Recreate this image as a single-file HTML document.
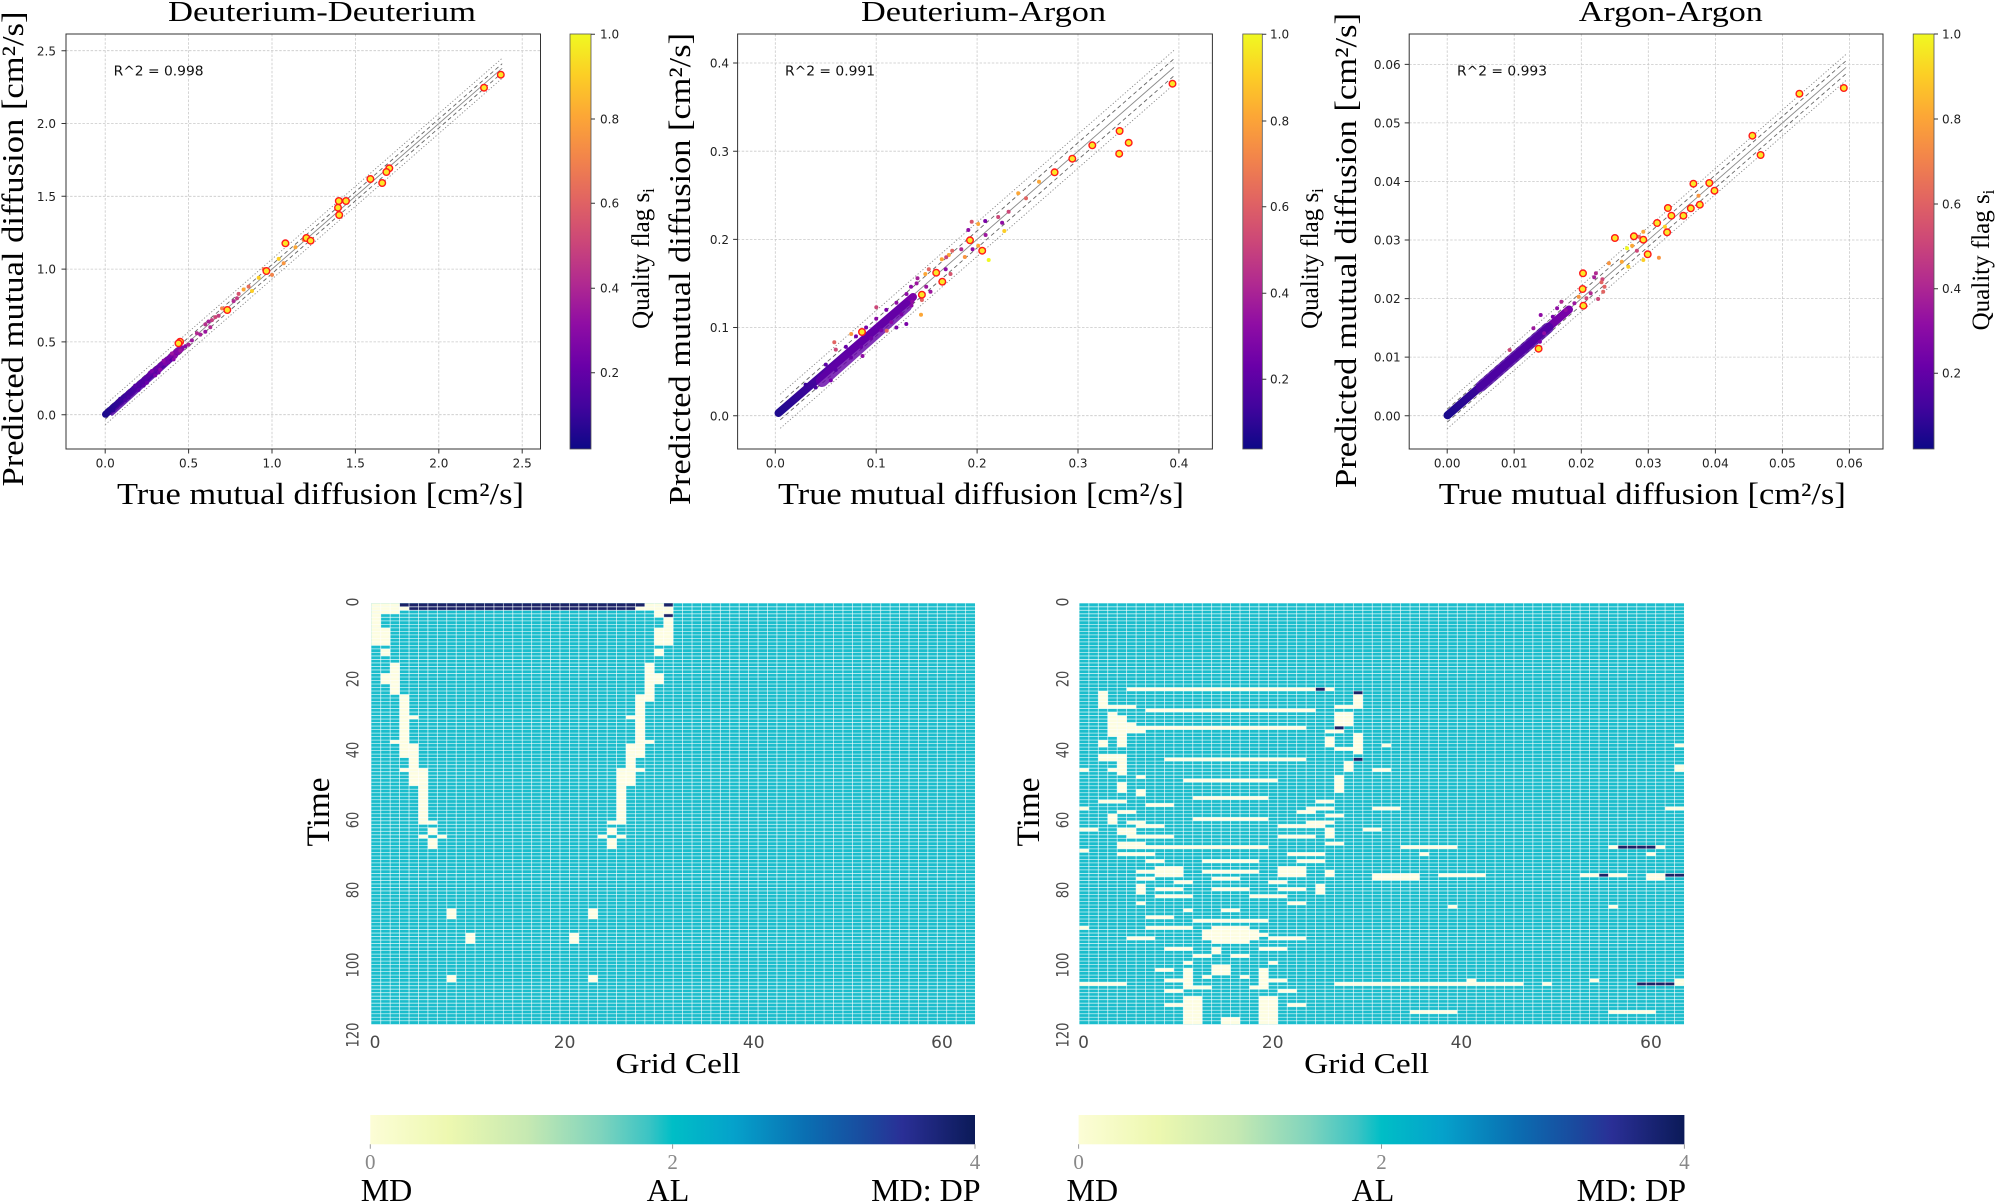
<!DOCTYPE html>
<html><head><meta charset="utf-8"><style>html,body{margin:0;padding:0;background:#fff}svg{display:block}</style></head>
<body>
<svg xmlns="http://www.w3.org/2000/svg" width="1996" height="1203" viewBox="0 0 1996 1203">
<defs>
<linearGradient id="pl" x1="0" y1="1" x2="0" y2="0">
<stop offset="0" stop-color="#0d0887"/><stop offset=".1" stop-color="#41049d"/><stop offset=".2" stop-color="#6a00a8"/><stop offset=".3" stop-color="#8f0da4"/><stop offset=".4" stop-color="#b12a90"/><stop offset=".5" stop-color="#cc4778"/><stop offset=".6" stop-color="#e16462"/><stop offset=".7" stop-color="#f2844b"/><stop offset=".8" stop-color="#fca636"/><stop offset=".9" stop-color="#fcce25"/><stop offset="1" stop-color="#f0f921"/>
</linearGradient>
<linearGradient id="yg" x1="0" y1="0" x2="1" y2="0">
<stop offset="0" stop-color="#fcfdd6"/><stop offset=".13" stop-color="#edf8b0"/><stop offset=".26" stop-color="#c6e9b2"/><stop offset=".38" stop-color="#80d4bd"/><stop offset=".46" stop-color="#3cc4c4"/><stop offset=".5" stop-color="#00bec6"/><stop offset=".6" stop-color="#05a2cb"/><stop offset=".72" stop-color="#0a6fb2"/><stop offset=".82" stop-color="#1a4a9e"/><stop offset=".88" stop-color="#2a2f96"/><stop offset="1" stop-color="#0b1a58"/>
</linearGradient>
<linearGradient id="b1" gradientUnits="userSpaceOnUse" x1="105" y1="415" x2="181" y2="348"><stop offset="0" stop-color="#1b0a8c"/><stop offset=".4" stop-color="#4a03a0"/><stop offset=".8" stop-color="#7001a8"/><stop offset="1" stop-color="#8a0aa5"/></linearGradient>
<linearGradient id="b2" gradientUnits="userSpaceOnUse" x1="778" y1="413" x2="913" y2="297"><stop offset="0" stop-color="#1f0a8e"/><stop offset=".4" stop-color="#5402a3"/><stop offset="1" stop-color="#7a02a8"/></linearGradient>
<linearGradient id="b3" gradientUnits="userSpaceOnUse" x1="1447" y1="416" x2="1569" y2="309"><stop offset="0" stop-color="#1a0a8c"/><stop offset=".4" stop-color="#4a03a0"/><stop offset="1" stop-color="#7a02a8"/></linearGradient>
<path id="hl" vector-effect="non-scaling-stroke" d="M0 1H64M0 2H64M0 3H64M0 4H64M0 5H64M0 6H64M0 7H64M0 8H64M0 9H64M0 10H64M0 11H64M0 12H64M0 13H64M0 14H64M0 15H64M0 16H64M0 17H64M0 18H64M0 19H64M0 20H64M0 21H64M0 22H64M0 23H64M0 24H64M0 25H64M0 26H64M0 27H64M0 28H64M0 29H64M0 30H64M0 31H64M0 32H64M0 33H64M0 34H64M0 35H64M0 36H64M0 37H64M0 38H64M0 39H64M0 40H64M0 41H64M0 42H64M0 43H64M0 44H64M0 45H64M0 46H64M0 47H64M0 48H64M0 49H64M0 50H64M0 51H64M0 52H64M0 53H64M0 54H64M0 55H64M0 56H64M0 57H64M0 58H64M0 59H64M0 60H64M0 61H64M0 62H64M0 63H64M0 64H64M0 65H64M0 66H64M0 67H64M0 68H64M0 69H64M0 70H64M0 71H64M0 72H64M0 73H64M0 74H64M0 75H64M0 76H64M0 77H64M0 78H64M0 79H64M0 80H64M0 81H64M0 82H64M0 83H64M0 84H64M0 85H64M0 86H64M0 87H64M0 88H64M0 89H64M0 90H64M0 91H64M0 92H64M0 93H64M0 94H64M0 95H64M0 96H64M0 97H64M0 98H64M0 99H64M0 100H64M0 101H64M0 102H64M0 103H64M0 104H64M0 105H64M0 106H64M0 107H64M0 108H64M0 109H64M0 110H64M0 111H64M0 112H64M0 113H64M0 114H64M0 115H64M0 116H64M0 117H64M0 118H64M0 119H64"/>
<path id="vl" vector-effect="non-scaling-stroke" d="M1 0V120M2 0V120M3 0V120M4 0V120M5 0V120M6 0V120M7 0V120M8 0V120M9 0V120M10 0V120M11 0V120M12 0V120M13 0V120M14 0V120M15 0V120M16 0V120M17 0V120M18 0V120M19 0V120M20 0V120M21 0V120M22 0V120M23 0V120M24 0V120M25 0V120M26 0V120M27 0V120M28 0V120M29 0V120M30 0V120M31 0V120M32 0V120M33 0V120M34 0V120M35 0V120M36 0V120M37 0V120M38 0V120M39 0V120M40 0V120M41 0V120M42 0V120M43 0V120M44 0V120M45 0V120M46 0V120M47 0V120M48 0V120M49 0V120M50 0V120M51 0V120M52 0V120M53 0V120M54 0V120M55 0V120M56 0V120M57 0V120M58 0V120M59 0V120M60 0V120M61 0V120M62 0V120M63 0V120"/>
</defs>
<rect width="1996" height="1203" fill="#fff"/>

<!-- ================= PLOT 1 ================= -->
<g stroke="#c9c9c9" stroke-width=".8" stroke-dasharray="2.5 1.6" fill="none">
<path d="M105.2 34V449M188.6 34V449M272 34V449M355.4 34V449M438.8 34V449M522.2 34V449"/>
<path d="M66 414.7H540.5M66 341.9H540.5M66 269.1H540.5M66 196.3H540.5M66 123.5H540.5M66 50.7H540.5"/>
</g>
<g fill="none" stroke-width=".9">
<path d="M105.2 414.7L502.2 68.2" stroke="#8a8a8a"/>
<path d="M105.2 410.2L502.2 63.7M105.2 419.2L502.2 72.7" stroke="#666" stroke-dasharray="4 3"/>
<path d="M105.2 404.7L502.2 58.2M105.2 424.7L502.2 78.2" stroke="#888" stroke-dasharray="1.2 2"/>
</g>
<path d="M105.5 414.3L181 348.5" stroke="url(#b1)" stroke-width="7" stroke-linecap="round" fill="none"/>
<path d="M112 414L176 356" stroke="#4f02a2" stroke-width="3.5" stroke-linecap="round" fill="none" opacity=".85"/>
<g>
<circle cx="113.5" cy="410.3" r="2" fill="#2c0594"/><circle cx="120.2" cy="398.7" r="2" fill="#3b049a"/><circle cx="128.6" cy="397.2" r="2" fill="#4b03a1"/><circle cx="135.2" cy="385.6" r="2" fill="#5601a4"/><circle cx="143.6" cy="385.6" r="2" fill="#5d01a6"/><circle cx="150.2" cy="372.5" r="2" fill="#6a00a8"/><circle cx="158.6" cy="372.5" r="2" fill="#7201a8"/><circle cx="165.2" cy="363.7" r="2" fill="#7e03a8"/><circle cx="173.6" cy="359.4" r="2" fill="#8606a6"/>
<circle cx="125.2" cy="400.1" r="2" fill="#4a03a0"/><circle cx="138.6" cy="389.9" r="2" fill="#5c01a6"/><circle cx="146.9" cy="382.7" r="2" fill="#6a00a8"/><circle cx="151.9" cy="371" r="2" fill="#7a02a8"/><circle cx="155.2" cy="375.4" r="2" fill="#7a02a8"/><circle cx="160.2" cy="369.6" r="2" fill="#8b0aa5"/><circle cx="163.6" cy="360.8" r="2" fill="#8b0aa5"/><circle cx="168.6" cy="362.3" r="2" fill="#7a02a8"/><circle cx="171.9" cy="353.5" r="2" fill="#9c179e"/><circle cx="175.3" cy="356.5" r="2" fill="#8b0aa5"/><circle cx="180.3" cy="350.6" r="2" fill="#9c179e"/><circle cx="185.3" cy="346.3" r="2" fill="#8b0aa5"/><circle cx="188.6" cy="344.8" r="2" fill="#a62098"/><circle cx="191.9" cy="340.4" r="2" fill="#9c179e"/><circle cx="196.9" cy="333.2" r="2" fill="#b12a90"/><circle cx="200.3" cy="334.6" r="2" fill="#a62098"/><circle cx="205.3" cy="331.7" r="2" fill="#9c179e"/><circle cx="205.3" cy="324.4" r="2" fill="#b52f8c"/><circle cx="210.3" cy="327.3" r="2" fill="#b12a90"/><circle cx="211.9" cy="320.1" r="2" fill="#c33d80"/><circle cx="215.3" cy="317.1" r="2" fill="#cc4778"/><circle cx="208.6" cy="321.5" r="2" fill="#a62098"/><circle cx="218.6" cy="315.7" r="2" fill="#c33d80"/><circle cx="222" cy="308.4" r="2" fill="#f2844b"/><circle cx="233.6" cy="301.1" r="2" fill="#b12a90"/><circle cx="237" cy="298.2" r="2" fill="#c33d80"/><circle cx="238.6" cy="293.9" r="2" fill="#d5546e"/><circle cx="243.6" cy="289.5" r="2" fill="#fca636"/><circle cx="248.6" cy="286.6" r="2" fill="#e66c5c"/><circle cx="252" cy="291" r="2" fill="#fcce25"/><circle cx="258.7" cy="277.8" r="2" fill="#fcce25"/><circle cx="263.7" cy="269.1" r="2" fill="#f2844b"/><circle cx="267" cy="272" r="2" fill="#fca636"/><circle cx="272" cy="274.9" r="2" fill="#f2844b"/><circle cx="278.7" cy="258.9" r="2" fill="#fcce25"/><circle cx="283.7" cy="263.3" r="2" fill="#f89540"/><circle cx="295.4" cy="247.3" r="2" fill="#fca636"/><circle cx="303.7" cy="240" r="2" fill="#f2844b"/><circle cx="308.7" cy="238.5" r="2" fill="#fca636"/>
</g>
<g fill="#fce725" stroke="#ff1a1a" stroke-width="1.4">
<circle cx="500.8" cy="74.7" r="3.3"/><circle cx="484" cy="87.7" r="3.3"/><circle cx="389.3" cy="168.3" r="3.3"/><circle cx="386.4" cy="172" r="3.3"/><circle cx="370.4" cy="179" r="3.3"/><circle cx="382.2" cy="183" r="3.3"/><circle cx="338.8" cy="201" r="3.3"/><circle cx="346" cy="201" r="3.3"/><circle cx="338" cy="207.7" r="3.3"/><circle cx="339.2" cy="215" r="3.3"/><circle cx="285.4" cy="243.3" r="3.3"/><circle cx="306.4" cy="238" r="3.3"/><circle cx="310.6" cy="240.7" r="3.3"/><circle cx="266.4" cy="271" r="3.3"/><circle cx="227.3" cy="310" r="3.3"/><circle cx="180.1" cy="341.7" r="3.3"/><circle cx="178.5" cy="343.3" r="3.3"/>
</g>
<rect x="66" y="34" width="474.5" height="415" fill="none" stroke="#333" stroke-width="1"/>
<g stroke="#333" stroke-width="1">
<path d="M105.2 449v4.5M188.6 449v4.5M272 449v4.5M355.4 449v4.5M438.8 449v4.5M522.2 449v4.5"/>
<path d="M61.5 414.7h4.5M61.5 341.9h4.5M61.5 269.1h4.5M61.5 196.3h4.5M61.5 123.5h4.5M61.5 50.7h4.5"/>
</g>
<g font-family="DejaVu Sans, sans-serif" font-size="12" fill="#222">
<g text-anchor="middle"><text x="105.2" y="467.5">0.0</text><text x="188.6" y="467.5">0.5</text><text x="272" y="467.5">1.0</text><text x="355.4" y="467.5">1.5</text><text x="438.8" y="467.5">2.0</text><text x="522.2" y="467.5">2.5</text></g>
<g text-anchor="end"><text x="56" y="419.3">0.0</text><text x="56" y="346.5">0.5</text><text x="56" y="273.7">1.0</text><text x="56" y="200.9">1.5</text><text x="56" y="128.1">2.0</text><text x="56" y="55.3">2.5</text></g>
<text x="113.6" y="75.5" font-size="13" textLength="90" lengthAdjust="spacingAndGlyphs" fill="#111">R^2 = 0.998</text>
</g>
<rect x="570" y="34" width="21" height="415" fill="url(#pl)" stroke="#555" stroke-width=".8"/>
<g stroke="#333" stroke-width="1"><path d="M591 34.3h4M591 119h4M591 203.3h4M591 288.3h4M591 372.7h4"/></g>
<g font-family="DejaVu Sans, sans-serif" font-size="12" fill="#222"><text x="600" y="38.7">1.0</text><text x="600" y="123.4">0.8</text><text x="600" y="207.7">0.6</text><text x="600" y="292.7">0.4</text><text x="600" y="377.1">0.2</text></g>
<g font-family="Liberation Serif, serif" fill="#000">
<text x="322" y="21" font-size="29" text-anchor="middle" textLength="308" lengthAdjust="spacingAndGlyphs">Deuterium-Deuterium</text>
<text x="320.5" y="504" font-size="31" text-anchor="middle" textLength="407" lengthAdjust="spacingAndGlyphs">True mutual diffusion [cm²/s]</text>
<text transform="translate(23 249) rotate(-90)" font-size="31" text-anchor="middle" textLength="475" lengthAdjust="spacingAndGlyphs">Predicted mutual diffusion [cm²/s]</text>
<text transform="translate(649 258.5) rotate(-90)" font-size="25" text-anchor="middle">Quality flag s<tspan font-size="17" dy="5">i</tspan></text>
</g>

<!-- ================= PLOT 2 ================= -->
<g stroke="#c9c9c9" stroke-width=".8" stroke-dasharray="2.5 1.6" fill="none">
<path d="M775.3 34V449M876.2 34V449M977.1 34V449M1078 34V449M1178.9 34V449"/>
<path d="M737.6 415.7H1212.4M737.6 327.5H1212.4M737.6 239.4H1212.4M737.6 151.2H1212.4M737.6 63H1212.4"/>
</g>
<g fill="none" stroke-width=".9">
<path d="M780.3 411.3L1173.9 67.4" stroke="#8a8a8a"/>
<path d="M780.3 402.8L1173.9 58.9M780.3 419.8L1173.9 75.9" stroke="#666" stroke-dasharray="4 3"/>
<path d="M780.3 394.3L1173.9 50.4M780.3 428.3L1173.9 84.4" stroke="#888" stroke-dasharray="1.2 2"/>
</g>
<path d="M778.5 413L913 297" stroke="url(#b2)" stroke-width="8" stroke-linecap="round" fill="none"/>
<path d="M822 381L906 306" stroke="#6200a6" stroke-width="12" stroke-linecap="round" fill="none" opacity=".8"/>
<g>
<circle cx="805.6" cy="384.8" r="2" fill="#3b049a"/><circle cx="815.7" cy="387.5" r="2" fill="#4a03a0"/><circle cx="825.8" cy="364.6" r="2" fill="#5c01a6"/><circle cx="835.8" cy="369.9" r="2" fill="#5c01a6"/><circle cx="845.9" cy="346.9" r="2" fill="#6a00a8"/><circle cx="851" cy="357.5" r="2" fill="#6a00a8"/><circle cx="856" cy="336.4" r="2" fill="#7201a8"/><circle cx="861.1" cy="346.9" r="2" fill="#6a00a8"/><circle cx="866.1" cy="327.5" r="2" fill="#7a02a8"/><circle cx="871.2" cy="338.1" r="2" fill="#7201a8"/><circle cx="876.2" cy="318.7" r="2" fill="#8b0aa5"/><circle cx="881.2" cy="330.2" r="2" fill="#7a02a8"/><circle cx="886.3" cy="309.9" r="2" fill="#7a02a8"/><circle cx="891.3" cy="322.2" r="2" fill="#8b0aa5"/><circle cx="896.4" cy="302.8" r="2" fill="#8f0da4"/><circle cx="901.4" cy="314.3" r="2" fill="#7a02a8"/><circle cx="906.5" cy="294" r="2" fill="#8f0da4"/><circle cx="911.5" cy="305.5" r="2" fill="#8b0aa5"/><circle cx="916.6" cy="283.4" r="2" fill="#9c179e"/><circle cx="921.6" cy="298.4" r="2" fill="#8f0da4"/><circle cx="835.8" cy="349.6" r="2" fill="#cc4778"/><circle cx="830.8" cy="380.4" r="2" fill="#7a02a8"/><circle cx="896.4" cy="327.5" r="2" fill="#7a02a8"/>
<circle cx="1039" cy="181.7" r="2" fill="#fca636"/><circle cx="1018.2" cy="193.3" r="2" fill="#fca636"/><circle cx="1026" cy="198.3" r="2" fill="#e16462"/><circle cx="1008.6" cy="211.7" r="2" fill="#cc4778"/><circle cx="998.2" cy="217" r="2" fill="#cc4778"/><circle cx="1002.1" cy="222.7" r="2" fill="#8f0da4"/><circle cx="985.2" cy="221" r="2" fill="#7a02a8"/><circle cx="978.2" cy="224" r="2" fill="#fca636"/><circle cx="985.6" cy="235" r="2" fill="#9c179e"/><circle cx="1004.3" cy="231" r="2" fill="#fcce25"/><circle cx="988.7" cy="260" r="2" fill="#f0f921"/><circle cx="964.8" cy="257" r="2" fill="#f89540"/><circle cx="972.6" cy="249.3" r="2" fill="#8f0da4"/><circle cx="961.3" cy="249.3" r="2" fill="#b12a90"/><circle cx="948.8" cy="255" r="2" fill="#fca636"/><circle cx="941.8" cy="259.3" r="2" fill="#fca636"/><circle cx="952.2" cy="250.7" r="2" fill="#e16462"/><circle cx="946.2" cy="257.3" r="2" fill="#cc4778"/><circle cx="950.5" cy="274" r="2" fill="#d5546e"/><circle cx="945.7" cy="269.3" r="2" fill="#8f0da4"/><circle cx="928.8" cy="269.3" r="2" fill="#e16462"/><circle cx="925.3" cy="274" r="2" fill="#fca636"/><circle cx="921" cy="314.7" r="2" fill="#fca636"/><circle cx="906.3" cy="324" r="2" fill="#7a02a8"/><circle cx="876.3" cy="307.3" r="2" fill="#cc4778"/><circle cx="851.2" cy="334" r="2" fill="#f89540"/><circle cx="834.3" cy="342.3" r="2" fill="#e16462"/><circle cx="862.5" cy="356" r="2" fill="#8f0da4"/><circle cx="886.7" cy="330.7" r="2" fill="#e16462"/><circle cx="971.7" cy="221.7" r="2" fill="#d5546e"/><circle cx="968.3" cy="230" r="2" fill="#8f0da4"/><circle cx="978.2" cy="245.7" r="2" fill="#fca636"/><circle cx="921.9" cy="300" r="2" fill="#e16462"/><circle cx="912.3" cy="301.7" r="2" fill="#8f0da4"/><circle cx="926.2" cy="286.7" r="2" fill="#9c179e"/><circle cx="930.5" cy="291.7" r="2" fill="#9c179e"/><circle cx="911" cy="286.7" r="2" fill="#8f0da4"/><circle cx="917.5" cy="278.3" r="2" fill="#a62098"/>
</g>
<g fill="#fce725" stroke="#ff1a1a" stroke-width="1.4">
<circle cx="1172.5" cy="83.7" r="3.3"/><circle cx="1119.6" cy="131" r="3.3"/><circle cx="1128.7" cy="142.7" r="3.3"/><circle cx="1119.2" cy="153.7" r="3.3"/><circle cx="1092.3" cy="145.3" r="3.3"/><circle cx="1072.3" cy="158.7" r="3.3"/><circle cx="1054.6" cy="172.3" r="3.3"/><circle cx="970" cy="240.3" r="3.3"/><circle cx="982.2" cy="250.7" r="3.3"/><circle cx="936.2" cy="272.7" r="3.3"/><circle cx="942.3" cy="281.7" r="3.3"/><circle cx="921.9" cy="294.7" r="3.3"/><circle cx="862" cy="332" r="3.3"/>
</g>
<rect x="737.6" y="34" width="474.8" height="415" fill="none" stroke="#333" stroke-width="1"/>
<g stroke="#333" stroke-width="1">
<path d="M775.3 449v4.5M876.2 449v4.5M977.1 449v4.5M1078 449v4.5M1178.9 449v4.5"/>
<path d="M733.1 415.7h4.5M733.1 327.5h4.5M733.1 239.4h4.5M733.1 151.2h4.5M733.1 63h4.5"/>
</g>
<g font-family="DejaVu Sans, sans-serif" font-size="12" fill="#222">
<g text-anchor="middle"><text x="775.3" y="467.5">0.0</text><text x="876.2" y="467.5">0.1</text><text x="977.1" y="467.5">0.2</text><text x="1078" y="467.5">0.3</text><text x="1178.9" y="467.5">0.4</text></g>
<g text-anchor="end"><text x="729" y="420.3">0.0</text><text x="729" y="332.1">0.1</text><text x="729" y="244">0.2</text><text x="729" y="155.8">0.3</text><text x="729" y="67.6">0.4</text></g>
<text x="785" y="75.5" font-size="13" textLength="90" lengthAdjust="spacingAndGlyphs" fill="#111">R^2 = 0.991</text>
</g>
<rect x="1242.8" y="34" width="19.5" height="415" fill="url(#pl)" stroke="#555" stroke-width=".8"/>
<g stroke="#333" stroke-width="1"><path d="M1262.3 34.3h4M1262.3 121h4M1262.3 206.7h4M1262.3 293.3h4M1262.3 379.3h4"/></g>
<g font-family="DejaVu Sans, sans-serif" font-size="12" fill="#222"><text x="1270" y="38.7">1.0</text><text x="1270" y="125.4">0.8</text><text x="1270" y="211.1">0.6</text><text x="1270" y="297.7">0.4</text><text x="1270" y="383.7">0.2</text></g>
<g font-family="Liberation Serif, serif" fill="#000">
<text x="983.5" y="21" font-size="29" text-anchor="middle" textLength="245" lengthAdjust="spacingAndGlyphs">Deuterium-Argon</text>
<text x="981" y="504" font-size="31" text-anchor="middle" textLength="406" lengthAdjust="spacingAndGlyphs">True mutual diffusion [cm²/s]</text>
<text transform="translate(690 269) rotate(-90)" font-size="31" text-anchor="middle" textLength="472" lengthAdjust="spacingAndGlyphs">Predicted mutual diffusion [cm²/s]</text>
<text transform="translate(1318 258.5) rotate(-90)" font-size="25" text-anchor="middle">Quality flag s<tspan font-size="17" dy="5">i</tspan></text>
</g>

<!-- ================= PLOT 3 ================= -->
<g stroke="#c9c9c9" stroke-width=".8" stroke-dasharray="2.5 1.6" fill="none">
<path d="M1447.2 34V449M1514.2 34V449M1581.3 34V449M1648.3 34V449M1715.4 34V449M1782.4 34V449M1849.4 34V449"/>
<path d="M1409.2 415.7H1883M1409.2 357.1H1883M1409.2 298.6H1883M1409.2 240H1883M1409.2 181.5H1883M1409.2 122.9H1883M1409.2 64.4H1883"/>
</g>
<g fill="none" stroke-width=".9">
<path d="M1447.2 415.7L1846.1 67.3" stroke="#8a8a8a"/>
<path d="M1447.2 409.2L1846.1 60.8M1447.2 422.2L1846.1 73.8" stroke="#666" stroke-dasharray="4 3"/>
<path d="M1447.2 402.7L1846.1 54.3M1447.2 428.7L1846.1 80.3" stroke="#888" stroke-dasharray="1.2 2"/>
</g>
<path d="M1447.5 415.3L1569 309.5" stroke="url(#b3)" stroke-width="8" stroke-linecap="round" fill="none"/>
<path d="M1481 386.4L1548 328" stroke="#4e02a2" stroke-width="11" stroke-linecap="round" fill="none" opacity=".8"/>
<g>
<circle cx="1627" cy="248.3" r="2" fill="#f0f921"/><circle cx="1628.3" cy="266.7" r="2" fill="#fcce25"/><circle cx="1608.9" cy="263.3" r="2" fill="#f89540"/><circle cx="1621.8" cy="261.7" r="2" fill="#fca636"/><circle cx="1643.3" cy="231.7" r="2" fill="#fca636"/><circle cx="1643.3" cy="260" r="2" fill="#fcce25"/><circle cx="1658.9" cy="257.7" r="2" fill="#f89540"/><circle cx="1636.9" cy="250.7" r="2" fill="#cc4778"/><circle cx="1698.5" cy="195.7" r="2" fill="#f89540"/><circle cx="1602.4" cy="279.3" r="2" fill="#cc4778"/><circle cx="1604.5" cy="286.7" r="2" fill="#e16462"/><circle cx="1594.2" cy="277.3" r="2" fill="#a62098"/><circle cx="1598.1" cy="299" r="2" fill="#cc4778"/><circle cx="1590.7" cy="293.3" r="2" fill="#b12a90"/><circle cx="1578.7" cy="296.7" r="2" fill="#f89540"/><circle cx="1557.1" cy="308.3" r="2" fill="#8f0da4"/><circle cx="1632.1" cy="245.7" r="2" fill="#fca636"/><circle cx="1639" cy="236.7" r="2" fill="#e16462"/><circle cx="1664.9" cy="226.7" r="2" fill="#fcce25"/><circle cx="1601.5" cy="282.3" r="2" fill="#e16462"/><circle cx="1586.4" cy="298.3" r="2" fill="#cc4778"/><circle cx="1574.4" cy="303.3" r="2" fill="#9c179e"/><circle cx="1565.7" cy="310" r="2" fill="#8f0da4"/><circle cx="1552.8" cy="316.7" r="2" fill="#7a02a8"/><circle cx="1561.4" cy="301.7" r="2" fill="#b12a90"/><circle cx="1595.9" cy="273.3" r="2" fill="#b12a90"/><circle cx="1603.2" cy="291.7" r="2" fill="#e16462"/><circle cx="1540.7" cy="315" r="2" fill="#8f0da4"/><circle cx="1533.4" cy="328.3" r="2" fill="#9c179e"/><circle cx="1509.7" cy="350" r="2" fill="#cc4778"/><circle cx="1539.9" cy="341.7" r="2" fill="#7a02a8"/><circle cx="1544.2" cy="333.3" r="2" fill="#8f0da4"/>
</g>
<g fill="#fce725" stroke="#ff1a1a" stroke-width="1.4">
<circle cx="1843.8" cy="88" r="3.3"/><circle cx="1799.4" cy="93.7" r="3.3"/><circle cx="1752.4" cy="135.7" r="3.3"/><circle cx="1760.6" cy="155" r="3.3"/><circle cx="1693.4" cy="183.7" r="3.3"/><circle cx="1709.3" cy="183" r="3.3"/><circle cx="1714.5" cy="190.7" r="3.3"/><circle cx="1667.9" cy="208" r="3.3"/><circle cx="1671.4" cy="215.7" r="3.3"/><circle cx="1690.8" cy="208.3" r="3.3"/><circle cx="1699.8" cy="204.7" r="3.3"/><circle cx="1683.4" cy="215.7" r="3.3"/><circle cx="1657.1" cy="223" r="3.3"/><circle cx="1667.1" cy="232.3" r="3.3"/><circle cx="1614.9" cy="238" r="3.3"/><circle cx="1633.9" cy="236.3" r="3.3"/><circle cx="1643.3" cy="239.7" r="3.3"/><circle cx="1647.7" cy="254.3" r="3.3"/><circle cx="1583" cy="273.3" r="3.3"/><circle cx="1582.6" cy="289" r="3.3"/><circle cx="1583.4" cy="305.7" r="3.3"/><circle cx="1538.6" cy="348.7" r="3.3"/>
</g>
<rect x="1409.2" y="34" width="473.8" height="415" fill="none" stroke="#333" stroke-width="1"/>
<g stroke="#333" stroke-width="1">
<path d="M1447.2 449v4.5M1514.2 449v4.5M1581.3 449v4.5M1648.3 449v4.5M1715.4 449v4.5M1782.4 449v4.5M1849.4 449v4.5"/>
<path d="M1404.7 415.7h4.5M1404.7 357.1h4.5M1404.7 298.6h4.5M1404.7 240h4.5M1404.7 181.5h4.5M1404.7 122.9h4.5M1404.7 64.4h4.5"/>
</g>
<g font-family="DejaVu Sans, sans-serif" font-size="12" fill="#222">
<g text-anchor="middle"><text x="1447.2" y="467.5">0.00</text><text x="1514.2" y="467.5">0.01</text><text x="1581.3" y="467.5">0.02</text><text x="1648.3" y="467.5">0.03</text><text x="1715.4" y="467.5">0.04</text><text x="1782.4" y="467.5">0.05</text><text x="1849.4" y="467.5">0.06</text></g>
<g text-anchor="end"><text x="1400.6" y="420.3">0.00</text><text x="1400.6" y="361.7">0.01</text><text x="1400.6" y="303.2">0.02</text><text x="1400.6" y="244.6">0.03</text><text x="1400.6" y="186.1">0.04</text><text x="1400.6" y="127.5">0.05</text><text x="1400.6" y="69">0.06</text></g>
<text x="1457" y="75.5" font-size="13" textLength="90" lengthAdjust="spacingAndGlyphs" fill="#111">R^2 = 0.993</text>
</g>
<rect x="1913.2" y="34" width="20.8" height="415" fill="url(#pl)" stroke="#555" stroke-width=".8"/>
<g stroke="#333" stroke-width="1"><path d="M1934 34h4M1934 119h4M1934 204h4M1934 288.7h4M1934 373.3h4"/></g>
<g font-family="DejaVu Sans, sans-serif" font-size="12" fill="#222"><text x="1942" y="38.4">1.0</text><text x="1942" y="123.4">0.8</text><text x="1942" y="208.4">0.6</text><text x="1942" y="293.1">0.4</text><text x="1942" y="377.7">0.2</text></g>
<g font-family="Liberation Serif, serif" fill="#000">
<text x="1670.8" y="21" font-size="29" text-anchor="middle" textLength="184" lengthAdjust="spacingAndGlyphs">Argon-Argon</text>
<text x="1642.3" y="504" font-size="31" text-anchor="middle" textLength="407" lengthAdjust="spacingAndGlyphs">True mutual diffusion [cm²/s]</text>
<text transform="translate(1356 250.5) rotate(-90)" font-size="31" text-anchor="middle" textLength="475" lengthAdjust="spacingAndGlyphs">Predicted mutual diffusion [cm²/s]</text>
<text transform="translate(1989 260) rotate(-90)" font-size="25" text-anchor="middle">Quality flag s<tspan font-size="17" dy="5">i</tspan></text>
</g>

<!-- ================= HEATMAP 1 ================= -->
<g transform="translate(371.3 603.3) scale(9.433 3.508)">
<rect width="64" height="120" fill="#1bbdcc"/>
<g fill="#fdfde1">
<rect x="0" y="0" width="3" height="1"/><rect x="0" y="1" width="4" height="1"/><rect x="0" y="2" width="3" height="1"/>
<rect x="29" y="0" width="2" height="1"/><rect x="28" y="1" width="4" height="1"/><rect x="30" y="2" width="2" height="1"/><rect x="30" y="3" width="1" height="1"/>
<rect x="0" y="3" width="1" height="4"/><rect x="0" y="7" width="2" height="5"/>
<rect x="31" y="4" width="1" height="3"/><rect x="30" y="7" width="2" height="5"/>
<rect x="1" y="13" width="1" height="2"/><rect x="30" y="13" width="1" height="2"/>
<rect x="2" y="17" width="1" height="9"/><rect x="1" y="20" width="1" height="3"/>
<rect x="29" y="17" width="1" height="9"/><rect x="30" y="20" width="1" height="3"/>
<rect x="3" y="26" width="1" height="2"/><rect x="28" y="26" width="2" height="2"/>
<rect x="3" y="28" width="1" height="16"/><rect x="4" y="32" width="1" height="1"/><rect x="2" y="39" width="1" height="1"/><rect x="4" y="40" width="1" height="3"/>
<rect x="28" y="28" width="1" height="16"/><rect x="27" y="32" width="1" height="1"/><rect x="29" y="39" width="1" height="1"/><rect x="27" y="40" width="1" height="3"/>
<rect x="4" y="43" width="1" height="5"/><rect x="3" y="47" width="3" height="1"/><rect x="4" y="48" width="2" height="4"/><rect x="5" y="52" width="1" height="10"/><rect x="5" y="62" width="2" height="1"/><rect x="6" y="64" width="1" height="2"/><rect x="5" y="66" width="1" height="1"/><rect x="7" y="66" width="1" height="1"/><rect x="6" y="67" width="1" height="3"/>
<rect x="27" y="43" width="1" height="5"/><rect x="26" y="47" width="3" height="1"/><rect x="26" y="48" width="2" height="4"/><rect x="26" y="52" width="1" height="10"/><rect x="25" y="62" width="2" height="1"/><rect x="25" y="64" width="1" height="2"/><rect x="24" y="66" width="1" height="1"/><rect x="26" y="66" width="1" height="1"/><rect x="25" y="67" width="1" height="3"/>
<rect x="8" y="87" width="1" height="3"/><rect x="23" y="87" width="1" height="3"/><rect x="10" y="94" width="1" height="3"/><rect x="21" y="94" width="1" height="3"/><rect x="8" y="106" width="1" height="2"/><rect x="23" y="106" width="1" height="2"/>
</g>
<g fill="#1c2266">
<rect x="3" y="0" width="26" height="1"/><rect x="4" y="1" width="24" height="1"/><rect x="31" y="0" width="1" height="1"/><rect x="31" y="3" width="1" height="1"/>
</g>
<g stroke="#fff" stroke-opacity=".75" stroke-width=".8" fill="none"><use href="#hl"/><use href="#vl"/></g>
</g>

<!-- ================= HEATMAP 2 ================= -->
<g transform="translate(1079.4 603.3) scale(9.447 3.508)">
<rect width="64" height="120" fill="#1bbdcc"/>
<g fill="#fdfde1">
<rect x="5" y="24" width="20" height="1"/><rect x="26" y="24" width="1" height="1"/><rect x="2" y="25" width="1" height="5"/><rect x="29" y="26" width="1" height="4"/><rect x="2" y="29" width="4" height="1"/><rect x="27" y="29" width="2" height="1"/><rect x="7" y="30" width="18" height="1"/>
<rect x="3" y="31" width="1" height="7"/><rect x="4" y="32" width="1" height="9"/><rect x="27" y="31" width="2" height="4"/><rect x="5" y="34" width="1" height="1"/><rect x="5" y="35" width="19" height="1"/><rect x="26" y="36" width="2" height="1"/><rect x="29" y="37" width="1" height="6"/><rect x="4" y="36" width="3" height="1"/><rect x="2" y="39" width="1" height="2"/><rect x="26" y="38" width="1" height="3"/><rect x="27" y="41" width="2" height="1"/><rect x="2" y="43" width="3" height="2"/><rect x="9" y="44" width="15" height="1"/>
<rect x="28" y="45" width="1" height="3"/><rect x="4" y="45" width="1" height="4"/><rect x="3" y="47" width="1" height="1"/><rect x="0" y="47" width="1" height="1"/><rect x="6" y="49" width="1" height="1"/><rect x="11" y="50" width="10" height="1"/><rect x="4" y="51" width="1" height="3"/><rect x="27" y="49" width="1" height="5"/><rect x="6" y="53" width="1" height="2"/><rect x="12" y="55" width="8" height="1"/><rect x="2" y="56" width="3" height="1"/><rect x="25" y="56" width="2" height="1"/><rect x="7" y="57" width="3" height="1"/><rect x="0" y="58" width="1" height="1"/><rect x="24" y="58" width="3" height="1"/><rect x="4" y="59" width="2" height="1"/><rect x="23" y="59" width="2" height="1"/><rect x="3" y="60" width="1" height="3"/><rect x="12" y="61" width="8" height="1"/><rect x="26" y="60" width="2" height="1"/><rect x="5" y="62" width="2" height="1"/><rect x="24" y="62" width="3" height="1"/><rect x="6" y="63" width="3" height="1"/><rect x="21" y="63" width="5" height="1"/><rect x="0" y="64" width="2" height="1"/><rect x="4" y="64" width="2" height="2"/><rect x="26" y="64" width="1" height="3"/><rect x="5" y="66" width="5" height="1"/><rect x="21" y="66" width="4" height="1"/><rect x="0" y="70" width="1" height="1"/><rect x="4" y="68" width="3" height="2"/><rect x="26" y="68" width="2" height="1"/><rect x="5" y="69" width="15" height="1"/><rect x="4" y="71" width="4" height="1"/><rect x="22" y="71" width="4" height="1"/><rect x="7" y="73" width="2" height="1"/><rect x="13" y="73" width="6" height="1"/><rect x="23" y="73" width="3" height="1"/><rect x="8" y="75" width="3" height="3"/><rect x="21" y="75" width="3" height="3"/><rect x="6" y="76" width="2" height="1"/><rect x="13" y="76" width="6" height="1"/><rect x="26" y="76" width="1" height="2"/><rect x="6" y="78" width="2" height="1"/><rect x="14" y="78" width="3" height="1"/><rect x="10" y="79" width="2" height="1"/><rect x="20" y="79" width="2" height="1"/><rect x="6" y="80" width="1" height="3"/><rect x="8" y="81" width="3" height="1"/><rect x="14" y="81" width="4" height="1"/><rect x="21" y="81" width="3" height="1"/><rect x="25" y="80" width="1" height="3"/><rect x="8" y="83" width="4" height="1"/><rect x="18" y="83" width="4" height="1"/><rect x="6" y="85" width="1" height="1"/><rect x="22" y="85" width="2" height="1"/><rect x="11" y="87" width="1" height="1"/><rect x="15" y="87" width="2" height="1"/><rect x="7" y="89" width="3" height="1"/><rect x="12" y="90" width="8" height="1"/><rect x="0" y="92" width="1" height="1"/><rect x="7" y="92" width="5" height="1"/><rect x="14" y="92" width="4" height="5"/><rect x="13" y="93" width="6" height="3"/><rect x="17" y="94" width="3" height="1"/><rect x="5" y="95" width="3" height="1"/><rect x="20" y="95" width="4" height="1"/><rect x="9" y="98" width="3" height="1"/><rect x="14" y="98" width="1" height="2"/><rect x="19" y="98" width="3" height="1"/><rect x="12" y="100" width="2" height="1"/><rect x="16" y="100" width="2" height="1"/><rect x="11" y="102" width="1" height="1"/><rect x="20" y="102" width="1" height="1"/><rect x="14" y="103" width="2" height="3"/><rect x="8" y="104" width="2" height="1"/><rect x="11" y="104" width="1" height="6"/><rect x="19" y="104" width="1" height="6"/><rect x="13" y="106" width="1" height="1"/><rect x="17" y="106" width="1" height="1"/><rect x="9" y="107" width="2" height="1"/><rect x="20" y="107" width="2" height="1"/><rect x="0" y="108" width="5" height="1"/><rect x="12" y="109" width="2" height="1"/><rect x="18" y="109" width="2" height="1"/><rect x="9" y="110" width="2" height="1"/><rect x="21" y="110" width="2" height="1"/><rect x="11" y="112" width="2" height="8"/><rect x="19" y="112" width="2" height="8"/><rect x="9" y="114" width="2" height="1"/><rect x="22" y="114" width="2" height="1"/><rect x="15" y="118" width="2" height="2"/>
<rect x="32" y="40" width="1" height="1"/><rect x="31" y="47" width="2" height="1"/><rect x="31" y="58" width="3" height="1"/><rect x="30" y="64" width="2" height="1"/><rect x="34" y="69" width="6" height="1"/><rect x="36" y="71" width="1" height="1"/><rect x="31" y="77" width="5" height="2"/><rect x="38" y="77" width="5" height="1"/><rect x="39" y="86" width="1" height="1"/><rect x="27" y="108" width="20" height="1"/><rect x="41" y="107" width="1" height="1"/><rect x="49" y="108" width="1" height="1"/><rect x="35" y="116" width="5" height="1"/><rect x="54" y="107" width="1" height="1"/>
<rect x="63" y="40" width="1" height="1"/><rect x="63" y="46" width="1" height="2"/><rect x="62" y="58" width="2" height="1"/><rect x="56" y="69" width="1" height="1"/><rect x="61" y="69" width="1" height="1"/><rect x="60" y="71" width="1" height="1"/><rect x="53" y="77" width="2" height="1"/><rect x="56" y="77" width="2" height="1"/><rect x="60" y="77" width="2" height="1"/><rect x="60" y="78" width="2" height="1"/><rect x="56" y="86" width="1" height="1"/><rect x="63" y="107" width="1" height="2"/><rect x="56" y="116" width="5" height="1"/>
</g>
<g fill="#1c2266">
<rect x="25" y="24" width="1" height="1"/><rect x="29" y="25" width="1" height="1"/><rect x="27" y="35" width="1" height="1"/><rect x="29" y="44" width="1" height="1"/><rect x="57" y="69" width="4" height="1"/><rect x="55" y="77" width="1" height="1"/><rect x="62" y="77" width="2" height="1"/><rect x="59" y="108" width="4" height="1"/>
</g>
<g stroke="#fff" stroke-opacity=".75" stroke-width=".8" fill="none"><use href="#hl"/><use href="#vl"/></g>
</g>

<!-- heatmap axes text -->
<g font-family="DejaVu Sans, sans-serif" font-size="17" fill="#4a4a4a">
<g text-anchor="middle">
<text x="375" y="1048">0</text><text x="564.6" y="1048">20</text><text x="753.7" y="1048">40</text><text x="942" y="1048">60</text>
<text x="1083.6" y="1048">0</text><text x="1272.7" y="1048">20</text><text x="1461.4" y="1048">40</text><text x="1651" y="1048">60</text>
<text transform="translate(358.5 602) rotate(-90)" textLength="9" lengthAdjust="spacingAndGlyphs">0</text>
<text transform="translate(358.5 679) rotate(-90)" textLength="16.5" lengthAdjust="spacingAndGlyphs">20</text>
<text transform="translate(358.5 750) rotate(-90)" textLength="16.5" lengthAdjust="spacingAndGlyphs">40</text>
<text transform="translate(358.5 820) rotate(-90)" textLength="16.5" lengthAdjust="spacingAndGlyphs">60</text>
<text transform="translate(358.5 890) rotate(-90)" textLength="16.5" lengthAdjust="spacingAndGlyphs">80</text>
<text transform="translate(358.5 965) rotate(-90)" textLength="25" lengthAdjust="spacingAndGlyphs">100</text>
<text transform="translate(358.5 1035) rotate(-90)" textLength="25" lengthAdjust="spacingAndGlyphs">120</text>
<text transform="translate(1068.5 602) rotate(-90)" textLength="9" lengthAdjust="spacingAndGlyphs">0</text>
<text transform="translate(1068.5 679) rotate(-90)" textLength="16.5" lengthAdjust="spacingAndGlyphs">20</text>
<text transform="translate(1068.5 750) rotate(-90)" textLength="16.5" lengthAdjust="spacingAndGlyphs">40</text>
<text transform="translate(1068.5 820) rotate(-90)" textLength="16.5" lengthAdjust="spacingAndGlyphs">60</text>
<text transform="translate(1068.5 890) rotate(-90)" textLength="16.5" lengthAdjust="spacingAndGlyphs">80</text>
<text transform="translate(1068.5 965) rotate(-90)" textLength="25" lengthAdjust="spacingAndGlyphs">100</text>
<text transform="translate(1068.5 1035) rotate(-90)" textLength="25" lengthAdjust="spacingAndGlyphs">120</text>
</g>
</g>
<g font-family="Liberation Serif, serif" fill="#000" text-anchor="middle">
<text x="678" y="1073" font-size="28" textLength="125" lengthAdjust="spacingAndGlyphs">Grid Cell</text>
<text x="1366.7" y="1073" font-size="28" textLength="125" lengthAdjust="spacingAndGlyphs">Grid Cell</text>
<text transform="translate(329 812) rotate(-90)" font-size="33" textLength="69" lengthAdjust="spacingAndGlyphs">Time</text>
<text transform="translate(1039 812) rotate(-90)" font-size="33" textLength="69" lengthAdjust="spacingAndGlyphs">Time</text>
</g>

<!-- bottom colorbars -->
<rect x="370.3" y="1115" width="604.7" height="29.3" fill="url(#yg)"/>
<rect x="1078.6" y="1115" width="605.8" height="29.3" fill="url(#yg)"/>
<g stroke="#999" stroke-width="1"><path d="M370.3 1144.3v4.5M672.6 1144.3v4.5M975 1144.3v4.5M1078.6 1144.3v4.5M1381.5 1144.3v4.5M1684.4 1144.3v4.5"/></g>
<g font-family="Liberation Serif, serif" font-size="21" fill="#888" text-anchor="middle">
<text x="370.3" y="1169">0</text><text x="672.6" y="1169">2</text><text x="975" y="1169">4</text>
<text x="1078.6" y="1169">0</text><text x="1381.5" y="1169">2</text><text x="1684.4" y="1169">4</text>
</g>
<g font-family="Liberation Serif, serif" font-size="32" fill="#000">
<text x="360.7" y="1201">MD</text><text x="668" y="1201" text-anchor="middle">AL</text><text x="980.5" y="1201" text-anchor="end">MD: DP</text>
<text x="1066.5" y="1201">MD</text><text x="1373" y="1201" text-anchor="middle">AL</text><text x="1686" y="1201" text-anchor="end">MD: DP</text>
</g>
</svg>
</body></html>
